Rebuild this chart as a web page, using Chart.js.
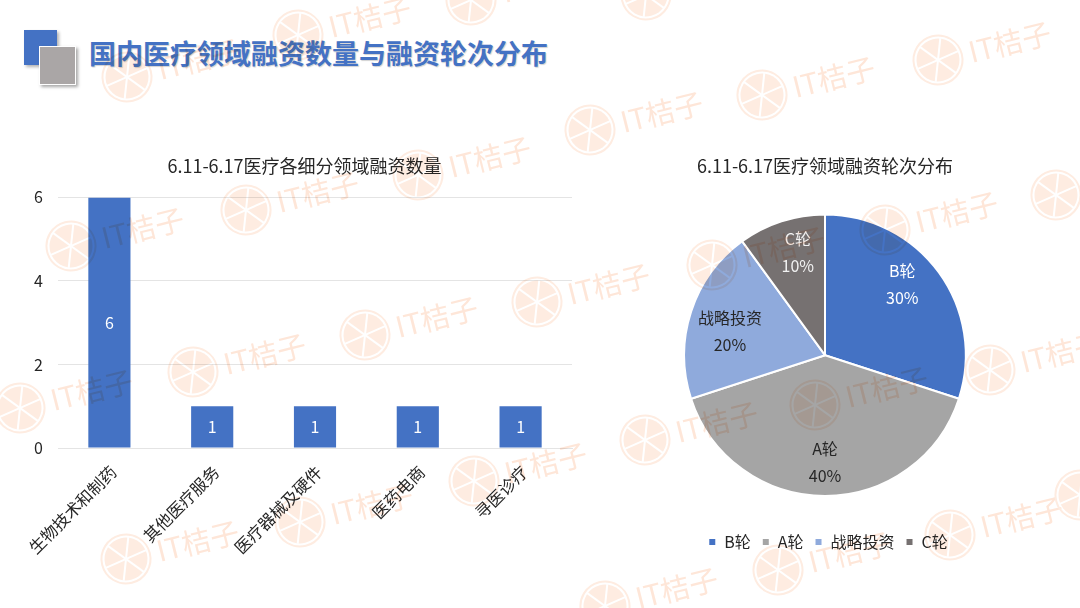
<!DOCTYPE html>
<html><head><meta charset="utf-8">
<script src="https://cdn.jsdelivr.net/npm/chart.js@4"></script>
<style>
html,body{margin:0;padding:0;background:#fff;width:1080px;height:608px;overflow:hidden;font-family:"Noto Sans CJK SC",sans-serif}
#wrap{position:relative;width:1080px;height:608px;overflow:hidden;background:#fff}
.abs{position:absolute}
#sq1{left:24px;top:30px;width:33px;height:35px;background:#4472c4;box-shadow:2px 2px 3px rgba(0,0,0,.3)}
#sq2{left:39px;top:46px;width:35px;height:37px;background:#aaa6a6;border:1px solid #fff;box-shadow:2px 2px 3px rgba(0,0,0,.35)}
#head{left:89px;top:33px;font-size:27px;line-height:40px;font-weight:700;color:#4472c4;text-shadow:1px 1px 1px rgba(0,0,0,.18);white-space:nowrap}
#wm{left:0;top:0;pointer-events:none;mix-blend-mode:multiply}
</style></head><body>
<div id="wrap">
<div class="abs" id="sq1"></div><div class="abs" id="sq2"></div>
<div class="abs" id="head">国内医疗领域融资数量与融资轮次分布</div>
<div class="abs" style="left:0;top:140px;width:600px;height:430px"><canvas id="bar" width="600" height="430"></canvas></div>
<div class="abs" style="left:640px;top:140px;width:370px;height:430px"><canvas id="pie" width="370" height="430"></canvas></div>
<svg class="abs" id="wm" width="1080" height="608" xmlns="http://www.w3.org/2000/svg"></svg>
</div>
<script>
const barTitle = "6.11-6.17医疗各细分领域融资数量";
const barCategories = ["生物技术和制药","其他医疗服务","医疗器械及硬件","医药电商","寻医诊疗"];
const barValues = [6,1,1,1,1];
const pieTitle = "6.11-6.17医疗领域融资轮次分布";
const pieCategories = ["B轮","A轮","战略投资","C轮"];
const pieValues = [30,40,20,10];
const pieColors = ["#4472c4","#a5a5a5","#8faadc","#767171"];
const pieLabelColors = ["#ffffff","#262626","#262626","#f2f2f2"];

const FONT = '"Noto Sans CJK SC", sans-serif';
const DARK = "#262626";
Chart.defaults.font.family = FONT;
Chart.defaults.animation = false;
Chart.defaults.responsive = false;

const barLabels = {
  id:"barLabels",
  afterLayout(c){ c.titleBlock.left+=37; },
  afterDatasetsDraw(c){
    const ctx=c.ctx, m=c.getDatasetMeta(0), y0=c.scales.y.getPixelForValue(0);
    ctx.save();ctx.fillStyle="#fff";ctx.font="16px "+FONT;ctx.textAlign="center";ctx.textBaseline="middle";
    m.data.forEach((b,i)=>ctx.fillText(String(barValues[i]),b.x,(b.y+y0)/2));
    ctx.restore();
  }
};
new Chart(document.getElementById("bar"),{
  type:"bar",
  data:{labels:barCategories,datasets:[{data:barValues,backgroundColor:"#4472c4",categoryPercentage:1,barPercentage:.41}]},
  plugins:[barLabels],
  options:{
    layout:{padding:{top:0,right:28,bottom:0,left:0}},
    plugins:{legend:{display:false},tooltip:{enabled:false},
      title:{display:true,text:barTitle,color:DARK,font:{size:18,weight:"normal"},padding:{top:15.4,bottom:20.4}}},
    scales:{
      x:{grid:{display:false},border:{color:"#e4e4e4"},
         ticks:{color:DARK,font:{size:16.5},minRotation:45,maxRotation:45,padding:6,labelOffset:4},
         afterFit(s){s.height=122}},
      y:{min:0,max:6,grid:{color:"#e4e4e4",drawTicks:false},border:{display:false},
         ticks:{stepSize:2,color:DARK,font:{size:16},padding:15},
         afterFit(s){s.width=58}}
    }
  }
});

// per-slice label placement tweak, in px (style only)
const labelNudge=[[-7,-10],[0,3],[4,8],[5,-4]];
const pieLabels = {
  id:"pieLabels",
  afterDatasetsDraw(c){
    const ctx=c.ctx;
    ctx.save();ctx.font="16px "+FONT;ctx.textAlign="center";ctx.textBaseline="middle";
    c.getDatasetMeta(0).data.forEach((a,i)=>{
      const mid=(a.startAngle+a.endAngle)/2, r=a.outerRadius*.74;
      const x=a.x+Math.cos(mid)*r+labelNudge[i][0], y=a.y+Math.sin(mid)*r+labelNudge[i][1];
      ctx.fillStyle=pieLabelColors[i];
      ctx.fillText(pieCategories[i],x,y-13);
      ctx.fillText(pieValues[i]+"%",x,y+14);
    });
    ctx.restore();
  }
};
const LEGEND_GAP = 23;
const legendGap = {
  id:"legendGap",
  beforeLayout(c){
    const l=c.legend;
    if(l && !l._gapPatched){
      const f=l.fit;
      l.fit=function(){f.call(this);this.height+=LEGEND_GAP;};
      l._gapPatched=true;
    }
  },
  afterLayout(c){ const l=c.legend; l.top+=LEGEND_GAP+3; l.left+=3; l.right+=3; }
};
new Chart(document.getElementById("pie"),{
  type:"pie",
  data:{labels:pieCategories,datasets:[{data:pieValues,backgroundColor:pieColors,borderColor:"#fff",borderWidth:2}]},
  plugins:[pieLabels,legendGap],
  options:{
    layout:{padding:{top:0,bottom:13}},
    plugins:{tooltip:{enabled:false},
      title:{display:true,text:pieTitle,color:DARK,font:{size:18,weight:"normal"},padding:{top:15.4,bottom:36.4}},
      legend:{position:"bottom",labels:{color:DARK,font:{size:16},usePointStyle:true,pointStyle:"rect",boxWidth:8,boxHeight:8,padding:11}}}
  }
});

// decorative background watermark
const wmAnchors=[[298,35],[471,0],[127,77],[646,-5],[762,95],[590,130],[938,60],[418,175],[246,210],[71,246],
[1056,195],[885,230],[712,265],[537,302],[365,335],[193,372],[20,408],
[990,370],[815,405],[645,440],[474,481],[300,522],[126,559],
[950,535],[778,570],[605,606],[1080,495]];
const NS="http://www.w3.org/2000/svg", wm=document.getElementById("wm");
const col="rgb(254,236,225)";
wmAnchors.forEach(([x,y])=>{
  const g=document.createElementNS(NS,"g");
  g.setAttribute("transform",`translate(${x} ${y}) rotate(-14)`);
  let h=`<circle r="24.5" fill="none" stroke="${col}" stroke-width="2"/><circle r="21.5" fill="${col}"/>`;
  for(let i=0;i<3;i++){h+=`<line x1="0" y1="-22" x2="0" y2="22" stroke="#fff" stroke-width="2" transform="rotate(${i*60+20})"/>`;}
  h+=`<text x="32" y="11" font-size="29" fill="rgb(254,230,216)" font-family='"Noto Sans CJK SC"'>IT桔子</text>`;
  g.innerHTML=h;
  wm.appendChild(g);
});
</script>
</body></html>
